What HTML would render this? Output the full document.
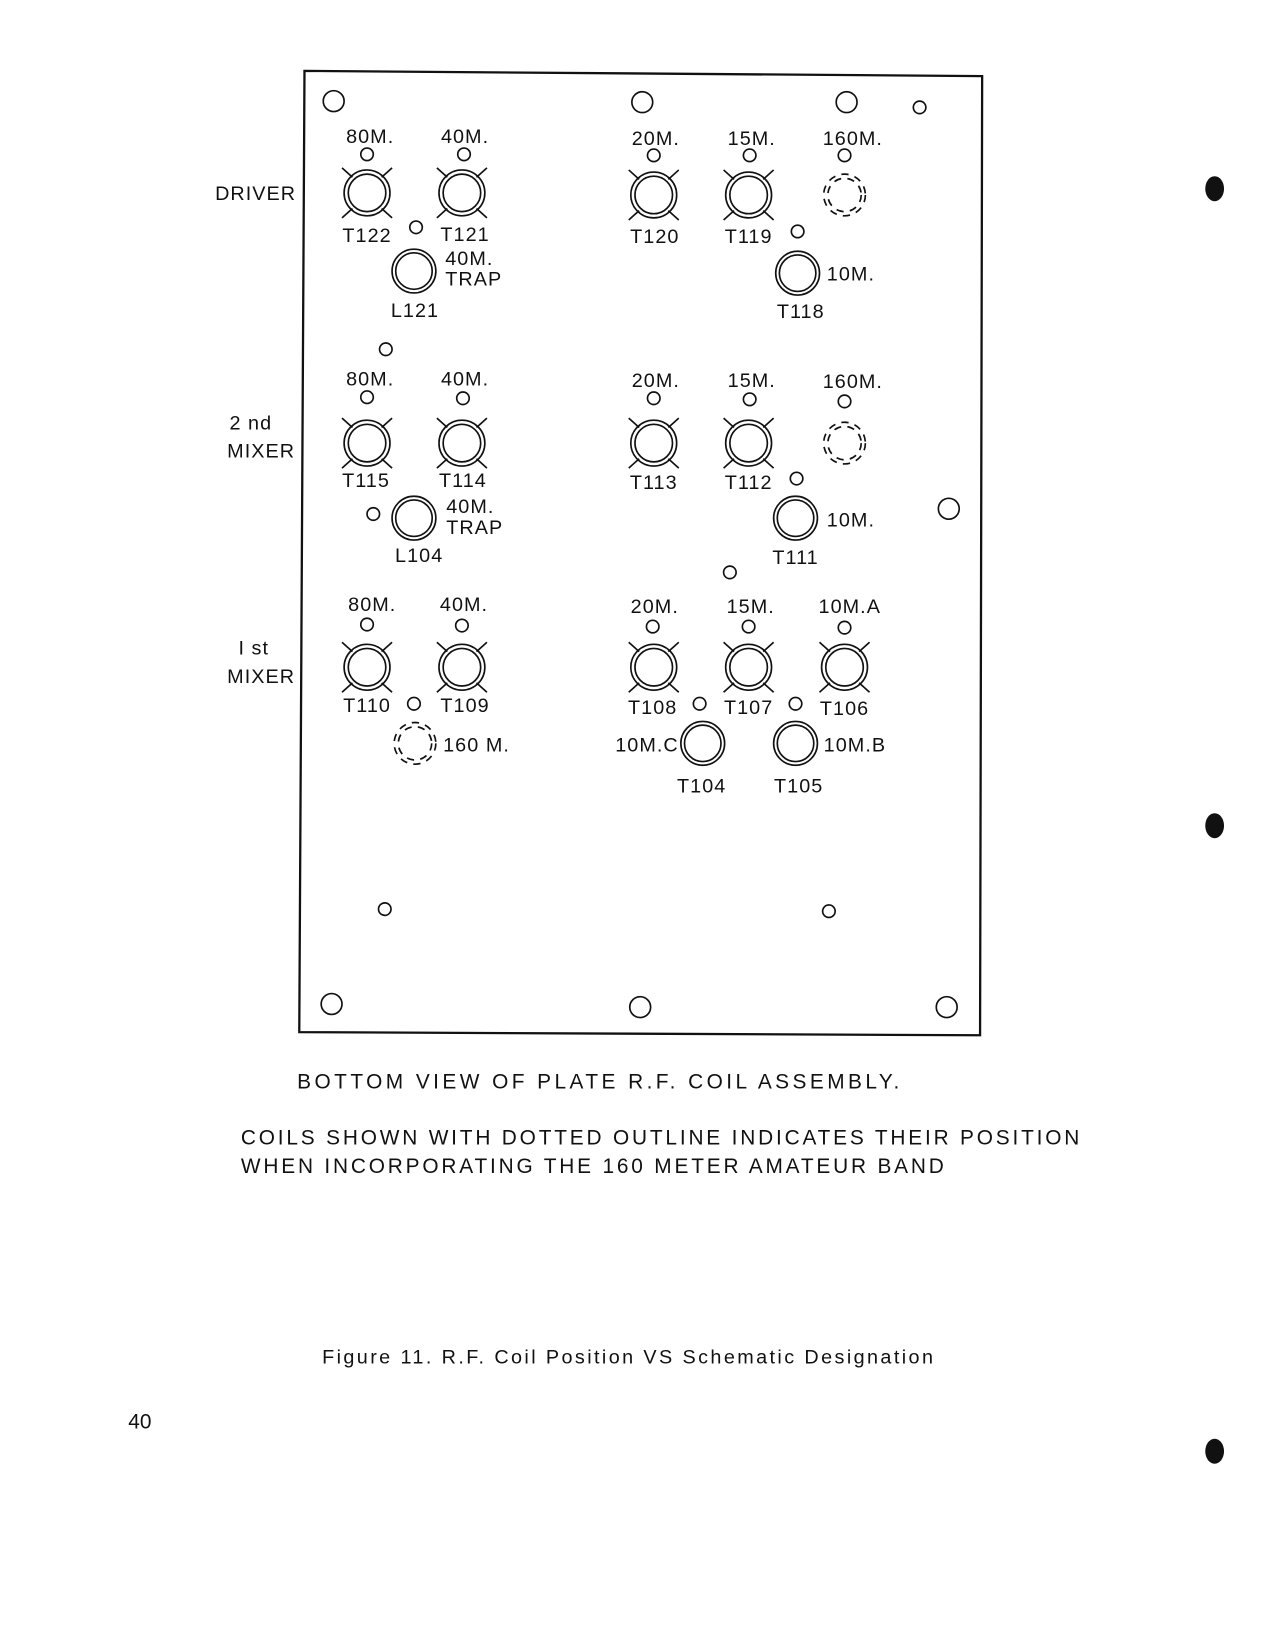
<!DOCTYPE html>
<html><head><meta charset="utf-8"><style>
html,body{margin:0;padding:0;background:#fff;}
svg{display:block}
text{font-family:"Liberation Sans",sans-serif;fill:#111;}
</style></head><body>
<svg width="1271" height="1641" viewBox="0 0 1219 1574" xmlns="http://www.w3.org/2000/svg">
<defs>
<g id="coil" fill="none" stroke="#111" stroke-width="1.6">
<circle r="22"/><circle r="18"/>
<path d="M-24,-24 L-14,-15 M24,-24 L14,-15 M-24,24 L-14,15 M24,24 L14,15"/>
</g>
<g id="plain" fill="none" stroke="#111" stroke-width="1.6">
<circle r="21"/><circle r="17.5"/>
</g>
<g id="dash" fill="none" stroke="#111" stroke-width="1.6" stroke-dasharray="7 6">
<circle r="20"/><circle r="16"/>
</g>
</defs>
<rect width="1219" height="1574" fill="#fff"/>
<polygon points="292,68 942,73 940,993 287,990" fill="none" stroke="#111" stroke-width="2.2"/>
<g fill="none" stroke="#111" stroke-width="1.6">
<circle cx="320" cy="97" r="10"/><circle cx="616" cy="98" r="10"/><circle cx="812" cy="98" r="10"/>
<circle cx="882" cy="103" r="6"/><circle cx="910" cy="488" r="10"/>
<circle cx="318" cy="963" r="10"/><circle cx="614" cy="966" r="10"/><circle cx="908" cy="966" r="10"/>
<circle cx="369" cy="872" r="6"/><circle cx="795" cy="874" r="6"/>
<circle cx="352" cy="148" r="6"/><circle cx="445" cy="148" r="6"/><circle cx="627" cy="149" r="6"/><circle cx="719" cy="149" r="6"/><circle cx="810" cy="149" r="6"/>
<circle cx="399" cy="218" r="6"/><circle cx="765" cy="222" r="6"/><circle cx="370" cy="335" r="6"/>
<circle cx="352" cy="381" r="6"/><circle cx="444" cy="382" r="6"/><circle cx="627" cy="382" r="6"/><circle cx="719" cy="383" r="6"/><circle cx="810" cy="385" r="6"/>
<circle cx="764" cy="459" r="6"/><circle cx="358" cy="493" r="6"/><circle cx="700" cy="549" r="6"/>
<circle cx="352" cy="599" r="6"/><circle cx="443" cy="600" r="6"/><circle cx="626" cy="601" r="6"/><circle cx="718" cy="601" r="6"/><circle cx="810" cy="602" r="6"/>
<circle cx="397" cy="675" r="6"/><circle cx="671" cy="675" r="6"/><circle cx="763" cy="675" r="6"/>
</g>
<use href="#coil" x="352" y="185"/><use href="#coil" x="443" y="185"/><use href="#coil" x="627" y="187"/><use href="#coil" x="718" y="187"/><use href="#dash" x="810" y="187"/>
<use href="#plain" x="397" y="260"/><use href="#plain" x="765" y="262"/>
<use href="#coil" x="352" y="425"/><use href="#coil" x="443" y="425"/><use href="#coil" x="627" y="425"/><use href="#coil" x="718" y="425"/><use href="#dash" x="810" y="425"/>
<use href="#plain" x="397" y="497"/><use href="#plain" x="763" y="497"/>
<use href="#coil" x="352" y="640"/><use href="#coil" x="443" y="640"/><use href="#coil" x="627" y="640"/><use href="#coil" x="718" y="640"/><use href="#coil" x="810" y="640"/>
<use href="#dash" x="398" y="713"/><use href="#plain" x="674" y="713"/><use href="#plain" x="763" y="713"/>
<g font-size="19" letter-spacing="1" text-anchor="middle">
<text x="355" y="137">80M.</text><text x="446" y="137">40M.</text><text x="629" y="139">20M.</text><text x="721" y="139">15M.</text><text x="818" y="139">160M.</text>
<text x="352" y="232">T122</text><text x="446" y="231">T121</text><text x="628" y="233">T120</text><text x="718" y="233">T119</text>
<text x="398" y="304">L121</text><text x="768" y="305">T118</text>
<text x="355" y="370">80M.</text><text x="446" y="370">40M.</text><text x="629" y="371">20M.</text><text x="721" y="371">15M.</text><text x="818" y="372">160M.</text>
<text x="351" y="467">T115</text><text x="444" y="467">T114</text><text x="627" y="469">T113</text><text x="718" y="469">T112</text>
<text x="402" y="539">L104</text><text x="763" y="541">T111</text>
<text x="357" y="586">80M.</text><text x="445" y="586">40M.</text><text x="628" y="588">20M.</text><text x="720" y="588">15M.</text><text x="815" y="588">10M.A</text>
<text x="352" y="683">T110</text><text x="446" y="683">T109</text><text x="626" y="685">T108</text><text x="718" y="685">T107</text><text x="810" y="686">T106</text>
<text x="673" y="760">T104</text><text x="766" y="760">T105</text>
</g>
<g font-size="19" letter-spacing="1">
<text x="427" y="254">40M.</text><text x="427" y="274">TRAP</text><text x="793" y="269">10M.</text>
<text x="428" y="492">40M.</text><text x="428" y="512">TRAP</text><text x="793" y="505">10M.</text>
<text x="425" y="721">160 M.</text><text x="790" y="721">10M.B</text>
<text x="651" y="721" text-anchor="end">10M.C</text>
<text x="284" y="192" text-anchor="end">DRIVER</text>
<text x="261" y="412" text-anchor="end">2 nd</text><text x="283" y="439" text-anchor="end">MIXER</text>
<text x="258" y="628" text-anchor="end">I st</text><text x="283" y="655" text-anchor="end">MIXER</text>
</g>
<g font-size="20">
<text x="285" y="1044" letter-spacing="3.3">BOTTOM VIEW OF PLATE R.F. COIL ASSEMBLY.</text>
<text x="231" y="1098" letter-spacing="2.7">COILS SHOWN WITH DOTTED OUTLINE INDICATES THEIR POSITION</text>
<text x="231" y="1125" letter-spacing="2.7">WHEN INCORPORATING THE 160 METER AMATEUR BAND</text>
</g>
<text x="603" y="1308" font-size="19" text-anchor="middle" letter-spacing="2.3">Figure 11.  R.F. Coil Position VS Schematic Designation</text>
<text x="123" y="1370" font-size="20">40</text>
<g fill="#111">
<ellipse cx="1165" cy="181" rx="9" ry="12"/><ellipse cx="1165" cy="792" rx="9" ry="12"/><ellipse cx="1165" cy="1392" rx="9" ry="12"/>
</g>
</svg>
</body></html>
